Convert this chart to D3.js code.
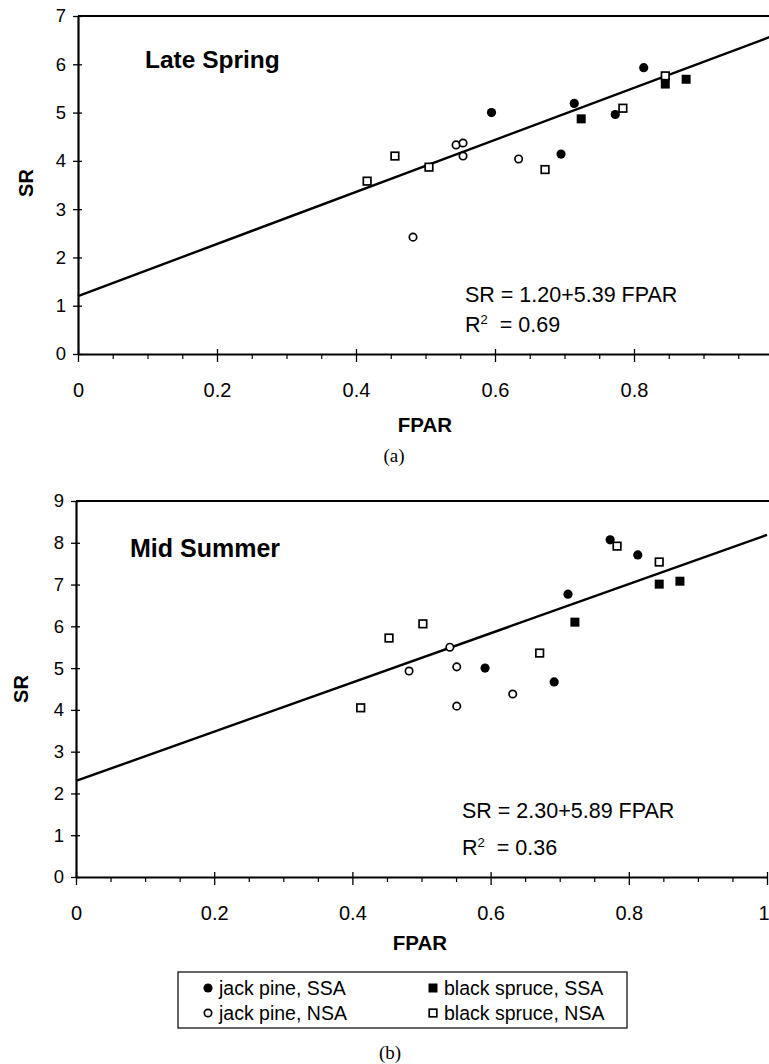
<!DOCTYPE html>
<html>
<head>
<meta charset="utf-8">
<script src="https://cdn.jsdelivr.net/npm/d3@7"></script>
<style>
  body { margin: 0; background: #fff; }
  svg { display: block; }
  text { font-family: "Liberation Sans", Arial, sans-serif; fill: #000; }
</style>
</head>
<body>
<svg id="chart" width="769" height="1064"></svg>
<script>
// ---- data ----
// Late Spring: [FPAR, SR]
const springJackSSA   = [[0.595, 5.00], [0.695, 4.14], [0.714, 5.19], [0.773, 4.96], [0.814, 5.93]];
const springJackNSA   = [[0.482, 2.42], [0.544, 4.33], [0.554, 4.37], [0.554, 4.10], [0.634, 4.04]];
const springSpruceSSA = [[0.724, 4.87], [0.845, 5.59], [0.875, 5.69]];
const springSpruceNSA = [[0.416, 3.58], [0.456, 4.10], [0.505, 3.87], [0.672, 3.82], [0.784, 5.09], [0.845, 5.76]];
// Mid Summer
const summerJackSSA   = [[0.592, 5.00], [0.692, 4.67], [0.712, 6.77], [0.773, 8.07], [0.813, 7.71]];
const summerJackNSA   = [[0.482, 4.93], [0.541, 5.50], [0.551, 5.03], [0.551, 4.09], [0.632, 4.38]];
const summerSpruceSSA = [[0.722, 6.10], [0.844, 7.01], [0.874, 7.08]];
const summerSpruceNSA = [[0.412, 4.05], [0.453, 5.72], [0.502, 6.06], [0.671, 5.36], [0.783, 7.92], [0.844, 7.54]];

// regression fits [intercept, slope, r2]
const springFit = [1.20, 5.39, 0.69];
const summerFit = [2.30, 5.89, 0.36];

const fparTicks = [0, 0.2, 0.4, 0.6, 0.8, 1];
const fparMinor = d3.range(0, 1.001, 0.05).filter(v => Math.abs(v * 5 - Math.round(v * 5)) > 1e-6);
const legendLabels = ["jack pine, SSA", "black spruce, SSA", "jack pine, NSA", "black spruce, NSA"];

const svg = d3.select("#chart");

function drawMarker(g, kind, cx, cy) {
    if (kind == "jackSSA") {
        g.append("circle").attr("cx", cx).attr("cy", cy).attr("r", 4.6).attr("fill", "#000");
    } else if (kind == "jackNSA") {
        g.append("circle").attr("cx", cx).attr("cy", cy).attr("r", 3.7)
            .attr("fill", "#fff").attr("stroke", "#000").attr("stroke-width", 1.7);
    } else if (kind == "spruceSSA") {
        g.append("rect").attr("x", cx - 4.5).attr("y", cy - 4.5).attr("width", 9).attr("height", 9).attr("fill", "#000");
    } else {
        g.append("rect").attr("x", cx - 3.8).attr("y", cy - 3.8).attr("width", 7.6).attr("height", 7.6)
            .attr("fill", "#fff").attr("stroke", "#000").attr("stroke-width", 1.7);
    }
}

function panel(opt) {
    let x = d3.scaleLinear().domain([0, 1]).range(opt.xRange);
    let y = d3.scaleLinear().domain([0, opt.yMax]).range(opt.yRange);
    let g = svg.append("g");

    // top frame line
    g.append("line")
        .attr("x1", x(0)).attr("x2", 769)
        .attr("y1", y(opt.yMax)).attr("y2", y(opt.yMax))
        .attr("stroke", "#000").attr("stroke-width", 2.2);

    // y axis
    let yAxis = g.append("g")
        .attr("transform", "translate(" + x(0) + ",0)")
        .call(d3.axisLeft(y).ticks(opt.yMax).tickSizeInner(5).tickSizeOuter(0).tickPadding(7));
    yAxis.select(".domain").attr("stroke-width", 2.2);
    yAxis.selectAll(".tick line").attr("x1", 4).attr("stroke-width", 1.3);
    yAxis.selectAll("text").style("font-size", "18.5px").attr("fill", "#000");

    // x axis minor ticks
    g.append("g")
        .attr("transform", "translate(0," + y(0) + ")")
        .call(d3.axisBottom(x).tickValues(fparMinor).tickSize(5).tickFormat(""))
        .call(a => a.select(".domain").remove())
        .selectAll("line").attr("stroke-width", 1.2);

    // x axis major
    let xAxis = g.append("g")
        .attr("transform", "translate(0," + y(0) + ")")
        .call(d3.axisBottom(x).tickValues(fparTicks).tickSizeInner(8).tickSizeOuter(0)
            .tickFormat(d => d == 0 ? "0" : d == 1 ? (opt.showOne ? "1" : "") : d3.format(".1f")(d)));
    xAxis.select(".domain").attr("stroke-width", 2.2);
    xAxis.selectAll(".tick line").attr("y1", -5).attr("stroke-width", 1.3);
    xAxis.selectAll("text").style("font-size", "20px").attr("y", 43).attr("dy", 0).attr("fill", "#000")
        .filter(d => d == 1).attr("text-anchor", "end").attr("x", 769 - x(1));

    // axis titles
    g.append("text")
        .attr("transform", "translate(" + opt.srX + "," + opt.srY + ") rotate(-90)")
        .attr("text-anchor", "middle").attr("dy", "0.36em")
        .style("font-size", "20px").style("font-weight", "bold")
        .text("SR");
    g.append("text")
        .attr("x", opt.fparX).attr("y", opt.fparY)
        .attr("text-anchor", "middle")
        .style("font-size", "20.5px").style("font-weight", "bold")
        .text("FPAR");

    // season title
    g.append("text")
        .attr("x", opt.titleX).attr("y", opt.titleY)
        .style("font-size", opt.titleSize).style("font-weight", "bold")
        .text(opt.title);

    // regression line
    let fit = opt.fit;
    g.append("line")
        .attr("x1", x(0)).attr("y1", y(fit[0]))
        .attr("x2", x(1)).attr("y2", y(fit[0] + fit[1]))
        .attr("stroke", "#000").attr("stroke-width", 2.4);

    // equation
    g.append("text")
        .attr("x", opt.eqX).attr("y", opt.eqY)
        .style("font-size", "21.5px")
        .text("SR = " + fit[0].toFixed(2) + "+" + fit[1].toFixed(2) + " FPAR");
    let r2 = g.append("text")
        .attr("x", opt.eqX).attr("y", opt.eqY + opt.eqGap)
        .style("font-size", "21.5px")
        .attr("xml:space", "preserve");
    r2.append("tspan").text("R");
    r2.append("tspan").attr("dy", -8).style("font-size", "13px").text("2");
    r2.append("tspan").attr("dy", 8).text("  = " + fit[2].toFixed(2));

    // points
    let pts = g.append("g");
    opt.series.forEach(s => {
        s.data.forEach(d => drawMarker(pts, s.kind, x(d[0]), y(d[1])));
    });

    // caption
    svg.append("text")
        .attr("x", opt.capX).attr("y", opt.capY)
        .attr("text-anchor", "middle")
        .style("font-family", "'Liberation Serif', 'Times New Roman', serif")
        .style("font-size", "19px")
        .text(opt.caption);
}

panel({
    xRange: [78, 773], yRange: [354, 16], yMax: 7, showOne: false,
    srX: 26, srY: 183, fparX: 425, fparY: 432,
    title: "Late Spring", titleX: 145, titleY: 68, titleSize: "24.5px",
    fit: springFit, eqX: 465, eqY: 302, eqGap: 30,
    caption: "(a)", capX: 394, capY: 462,
    series: [
        { kind: "jackNSA", data: springJackNSA },
        { kind: "spruceNSA", data: springSpruceNSA },
        { kind: "jackSSA", data: springJackSSA },
        { kind: "spruceSSA", data: springSpruceSSA }
    ]
});

panel({
    xRange: [76, 767], yRange: [877, 501], yMax: 9, showOne: true,
    srX: 21, srY: 689, fparX: 420, fparY: 950,
    title: "Mid Summer", titleX: 130, titleY: 557, titleSize: "25px",
    fit: summerFit, eqX: 462, eqY: 818, eqGap: 37,
    caption: "(b)", capX: 390, capY: 1059,
    series: [
        { kind: "jackNSA", data: summerJackNSA },
        { kind: "spruceNSA", data: summerSpruceNSA },
        { kind: "jackSSA", data: summerJackSSA },
        { kind: "spruceSSA", data: summerSpruceSSA }
    ]
});

// legend
let legend = svg.append("g");
legend.append("rect")
    .attr("x", 178).attr("y", 972).attr("width", 449).attr("height", 56)
    .attr("fill", "none").attr("stroke", "#000").attr("stroke-width", 1.2);
let legendKinds = ["jackSSA", "spruceSSA", "jackNSA", "spruceNSA"];
legendKinds.forEach((k, i) => {
    let cx = i % 2 == 0 ? 208 : 433;
    let cy = i < 2 ? 988 : 1013;
    drawMarker(legend, k, cx, cy);
    legend.append("text")
        .attr("x", cx + 11).attr("y", cy + 7)
        .style("font-size", "19.5px")
        .text(legendLabels[i]);
});
</script>
</body>
</html>
